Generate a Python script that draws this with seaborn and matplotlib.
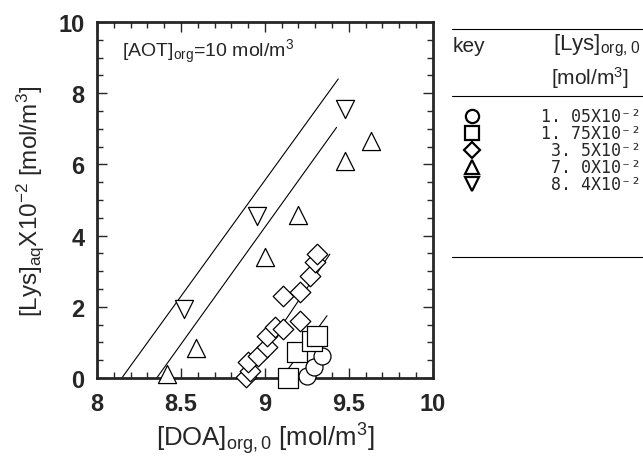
import numpy as np
import pandas as pd
import matplotlib
matplotlib.use("Agg")
import matplotlib.pyplot as plt
from matplotlib.lines import Line2D
from matplotlib.ticker import MultipleLocator, FuncFormatter
import seaborn as sns

# -- Data --------------------------------------------------------
circle_x = [9.25, 9.29, 9.34]
circle_y = [0.07, 0.30, 0.63]

square_x = [9.14, 9.19, 9.28, 9.31]
square_y = [0.00, 0.72, 1.05, 1.19]

diamond_x = [8.89, 8.91, 8.90, 8.96, 9.01, 9.01, 9.06, 9.11, 9.21,
             9.11, 9.21, 9.27, 9.30, 9.31]
diamond_y = [0.02, 0.21, 0.44, 0.63, 0.86, 1.19, 1.42, 1.38, 1.61,
             2.31, 2.42, 2.87, 3.25, 3.48]

up_x = [8.415, 8.59, 9.00, 9.20, 9.475, 9.63]
up_y = [0.11, 0.84, 3.39, 4.58, 6.10, 6.67]

down_x = [8.52, 8.95, 9.48]
down_y = [1.95, 4.55, 7.55]

# fitted lines (start/end)
fit_x = [[8.147, 9.437], [8.355, 9.427], [8.89, 9.387], [9.13, 9.37]]
fit_y = [[0.0, 8.40], [0.0, 7.04], [0.0, 3.48], [0.20, 1.75]]

keys = ["1. 05X10\u207b\u00b2", "1. 75X10\u207b\u00b2", "3. 5X10\u207b\u00b2",
        "7. 0X10\u207b\u00b2", "8. 4X10\u207b\u00b2"]
marker_list = ["o", "s", "D", "^", "v"]

frames = []
for xs, ys, k in zip([circle_x, square_x, diamond_x, up_x, down_x],
                     [circle_y, square_y, diamond_y, up_y, down_y], keys):
    frames.append(pd.DataFrame({"x": xs, "y": ys, "key": k}))
df = pd.concat(frames, ignore_index=True)

sns.set_style("ticks")
plt.rcParams["font.family"] = ["Liberation Sans", "DejaVu Sans"]
plt.rcParams["mathtext.default"] = "regular"

fig = plt.figure(figsize=(6.43, 4.60), dpi=100)
ax = fig.add_axes([0.151, 0.176, 0.522, 0.774])

for xs, ys in zip(fit_x, fit_y):
    ax.plot(xs, ys, color="black", linewidth=0.8, zorder=1)

sizes = {"o": 150, "s": 200, "D": 110, "^": 170, "v": 170}
for k, m in zip(keys, marker_list):
    sub = df[df["key"] == k]
    sns.scatterplot(data=sub, x="x", y="y", marker=m, s=sizes[m],
                    facecolor="white", edgecolor="black", linewidth=0.9,
                    ax=ax, zorder=3, legend=False, clip_on=False)

ax.set_xlim(8, 10)
ax.set_ylim(0, 10)
ax.xaxis.set_major_locator(MultipleLocator(0.5))
ax.xaxis.set_minor_locator(MultipleLocator(0.1))
ax.yaxis.set_major_locator(MultipleLocator(2))
ax.yaxis.set_minor_locator(MultipleLocator(0.5))
ax.xaxis.set_major_formatter(FuncFormatter(lambda v, p: f"{v:g}"))
ax.tick_params(which="both", direction="in", top=True, right=True,
               width=1.0)
ax.tick_params(which="major", length=7, labelsize=17)
ax.tick_params(axis="x", which="major", pad=10)
ax.tick_params(axis="y", which="major", pad=9)
ax.tick_params(which="minor", length=4)
for lbl in ax.get_xticklabels() + ax.get_yticklabels():
    lbl.set_fontweight("bold")
for sp in ax.spines.values():
    sp.set_linewidth(2.0)

ax.set_xlabel("[DOA]$_{org,0}$ [mol/m$^3$]", fontsize=18.5, labelpad=4)
ax.set_ylabel("[Lys]$_{aq}$X10$^{-2}$ [mol/m$^3$]", fontsize=17.5, labelpad=9)
ax.text(0.074, 0.918, "[AOT]$_{org}$=10 mol/m$^3$", transform=ax.transAxes,
        fontsize=14, va="center", ha="left")

# -- key table on the right ------------------------------------
for ly in [30, 97, 258]:
    fig.add_artist(Line2D([452/643, 1.0], [1-ly/460, 1-ly/460],
                          color="black", linewidth=0.8))
fig.text(453/643, 1-46/460, "key", fontsize=15, va="center", ha="left")
fig.text(640/643, 1-46/460, "[Lys]$_{org,0}$", fontsize=16, va="center", ha="right")
fig.text(590/643, 1-78/460, "[mol/m$^3$]", fontsize=15, va="center", ha="center")
row_y = [117, 134, 151, 168, 185]
for ry, k, m in zip(row_y, keys, marker_list):
    fig.add_artist(Line2D([472/643], [1-ry/460], marker=m,
                          markersize=9.5 if m != "D" else 8,
                          markerfacecolor="white", markeredgecolor="black",
                          markeredgewidth=1.6, linestyle="none"))
    fig.text(641/643, 1-ry/460, k, fontsize=12, va="center", ha="right",
             family=["DejaVu Sans Mono"])

fig.savefig("out.png", dpi=100)
